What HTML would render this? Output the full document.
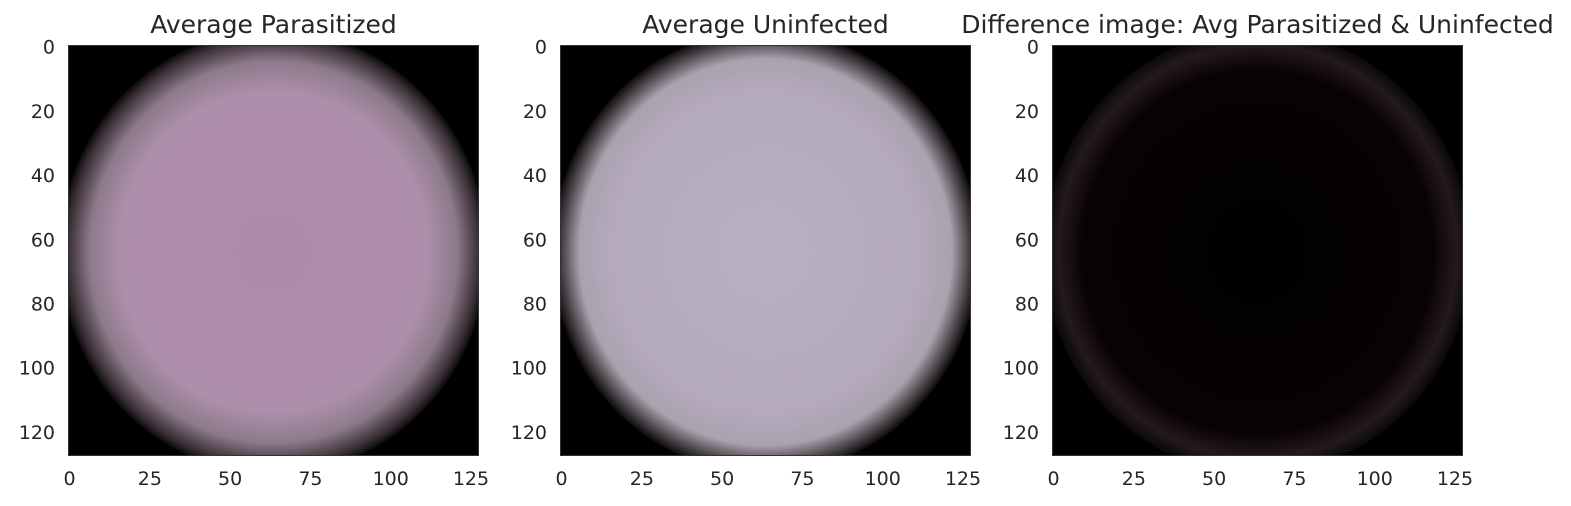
<!DOCTYPE html>
<html><head><meta charset="utf-8"><style>
body{margin:0;background:#fff;}
svg{display:block;font-family:"DejaVu Sans","Liberation Sans",sans-serif;}
</style></head><body>
<svg width="1571" height="506" xmlns="http://www.w3.org/2000/svg">
<defs>
<radialGradient id="gp" cx="0.5" cy="0.5" r="0.5">
<stop offset="0" stop-color="#ad8aa8"/><stop offset="0.72" stop-color="#ae8fab"/>
<stop offset="0.86" stop-color="#8c7a8a"/><stop offset="0.96" stop-color="#3a3036"/><stop offset="1" stop-color="#0c0a0b"/>
</radialGradient>
<radialGradient id="gu" cx="0.5" cy="0.5" r="0.5">
<stop offset="0" stop-color="#b8b0c2"/><stop offset="0.72" stop-color="#b4a9bd"/>
<stop offset="0.87" stop-color="#aaa2ae"/><stop offset="0.96" stop-color="#3e383c"/><stop offset="1" stop-color="#0c0a0b"/>
</radialGradient>
<radialGradient id="gd" cx="0.5" cy="0.5" r="0.5">
<stop offset="0" stop-color="#000"/><stop offset="0.82" stop-color="#090203"/>
<stop offset="0.93" stop-color="#241a1c"/><stop offset="1" stop-color="#0a0808"/>
</radialGradient>
</defs>
<g id="root"></g>
</svg>
<script>
const panelTitles = ["Average Parasitized","Average Uninfected","Difference image: Avg Parasitized & Uninfected"];
const panelFills = ["url(#gp)","url(#gu)","url(#gd)"];
const xTicks = [0,25,50,75,100,125];
const yTicks = [0,20,40,60,80,100,120];
const imgSize = 128;
const panelLeft = [68,560,1052];
const root = document.getElementById('root');
const NS = 'http://www.w3.org/2000/svg';
function mk(t,a,p){const e=document.createElementNS(NS,t);for(const k in a)e.setAttribute(k,a[k]);(p||root).appendChild(e);return e;}
const top0=45, W=411, H=411;
panelTitles.forEach((title,i)=>{
  const L=panelLeft[i];
  const sx=v=>L+(v+0.5)*W/imgSize;
  const sy=v=>top0+(v+0.5)*H/imgSize;
  const g=mk('g',{});
  
  
  const bg=mk('rect',{x:L,y:top0,width:W,height:H,fill:'#000'},g);
  
  
  const c=mk('ellipse',{cx:sx(63.5),cy:sy(64),rx:W*0.52,ry:H*0.54,fill:panelFills[i]},g);
  
  
  const fr=mk('rect',{x:L+0.5,y:top0+0.5,width:W-1,height:H-1,fill:'none',stroke:'#333',"stroke-width":1},g);
  
  
  const t=mk('text',{x:L+W/2,y:33,"text-anchor":"middle","font-size":"25","fill":"#262626"},g);
  t.textContent=title;
  
  
  xTicks.forEach(v=>{const e=mk('text',{x:sx(v),y:485,"text-anchor":"middle","font-size":"19",fill:"#262626"},g);e.textContent=v;
    
    });
  yTicks.forEach(v=>{const e=mk('text',{x:L-13,y:sy(v)+7,"text-anchor":"end","font-size":"19",fill:"#262626"},g);e.textContent=v;
    
    });
});
document.querySelectorAll('ellipse').forEach((e,i)=>{
  const cp=mk('clipPath',{id:'cp'+i},document.querySelector('defs'));
  mk('rect',{x:panelLeft[i],y:top0,width:W,height:H},cp);
  e.setAttribute('clip-path','url(#cp'+i+')');
});
</script>
</body></html>
